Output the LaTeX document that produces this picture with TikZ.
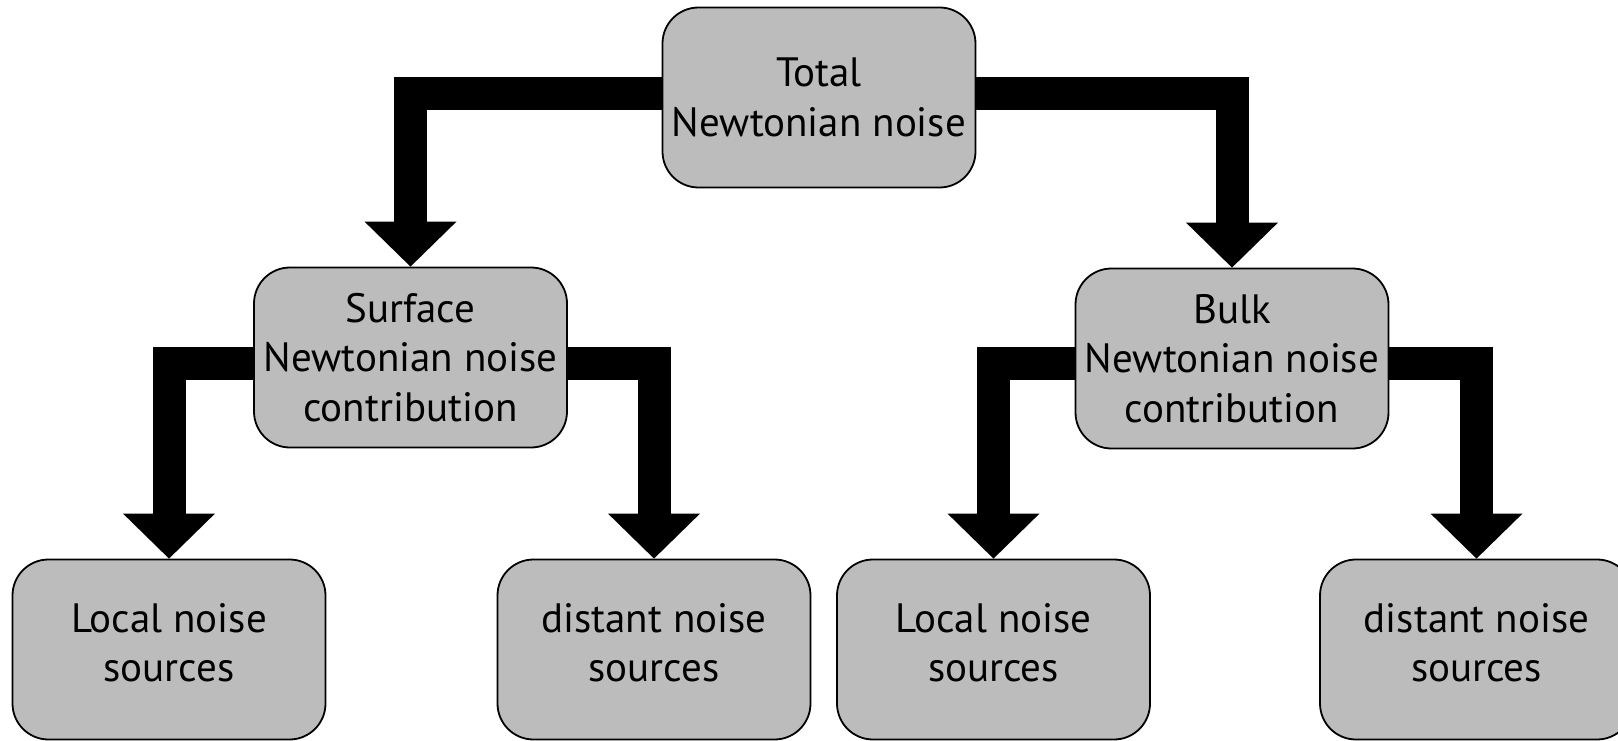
\documentclass[tikz,border=0pt]{standalone}
\usepackage{fontspec}
\setmainfont{PT Sans}
\usetikzlibrary{backgrounds}
\definecolor{boxgray}{HTML}{BCBCBC}
\tikzset{
  nbox/.style={draw=black, line width=1.8pt, fill=boxgray, rounded corners=36pt,
    minimum width=313pt, minimum height=180pt, inner sep=0pt, align=center,
    font=\fontsize{41pt}{49.5pt}\selectfont},
  leafbox/.style={nbox, text depth=14pt},
  shaft/.style={line width=33pt, line join=miter, line cap=butt, draw=black},
  tip/.style={fill=black}
}
% thick elbow connector ending in a broad triangular head
\newcommand{\branch}[2]{%
  \draw[shaft] (#1) -| ([yshift=44pt]#2.north);
  \fill[tip] ([xshift=-46pt,yshift=45pt]#2.north) -- (#2.north)
    -- ([xshift=46pt,yshift=45pt]#2.north) -- cycle;
}
\begin{document}
\begin{tikzpicture}[x=1pt, y=-1pt]
  \useasboundingbox (0,0) rectangle (1618,741);
  \clip (0,0) rectangle (1618,741);

  \node[nbox] (total)   at (819,97.5)  {Total\\Newtonian noise};
  \node[nbox] (surface) at (410.5,357.5) {Surface\\Newtonian noise\\contribution};
  \node[nbox] (bulk)    at (1232,358.5) {Bulk\\Newtonian noise\\contribution};
  \node[leafbox] (localL)  at (169,649.5) {Local noise\\sources};
  \node[leafbox] (distL)   at (654,649.5) {distant noise\\sources};
  \node[leafbox] (localR)  at (993.5,649.5) {Local noise\\sources};
  \node[leafbox] (distR)   at (1476.5,649.5) {distant noise\\sources};

  \coordinate (ytop) at (0,94);
  \coordinate (ymid) at (0,363);

  \begin{scope}[on background layer]
    \branch{total.west |- ytop}{surface}
    \branch{total.east |- ytop}{bulk}
    \branch{surface.west |- ymid}{localL}
    \branch{surface.east |- ymid}{distL}
    \branch{bulk.west |- ymid}{localR}
    \branch{bulk.east |- ymid}{distR}
  \end{scope}
\end{tikzpicture}
\end{document}
